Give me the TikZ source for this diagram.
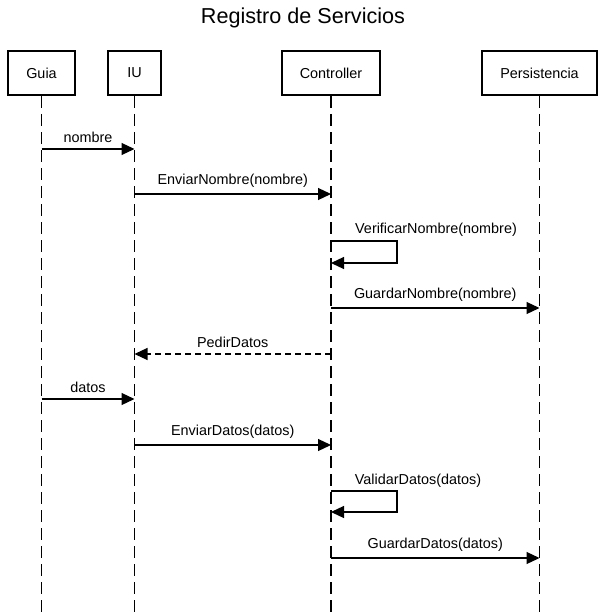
\documentclass[tikz,border=0pt]{standalone}
\usepackage{fontspec}
\setmainfont{Liberation Sans}
\usetikzlibrary{arrows.meta}
\begin{document}
\begin{tikzpicture}[x=1pt,y=-1pt,
  actor/.style={draw,line width=2pt,minimum height=44pt,inner sep=0pt,font=\fontsize{14.4}{16}\selectfont},
  life/.style={line width=1.2pt,dash pattern=on 12pt off 6pt},
  msg/.style={line width=1.2pt,-{Triangle[length=13pt,width=12pt]}},
  ret/.style={msg,dash pattern=on 6pt off 4pt},
  lbl/.style={font=\fontsize{14.4}{16}\selectfont,inner sep=0pt,anchor=base}]
\useasboundingbox (0,0) rectangle (606,615);
\node[font=\fontsize{21.6}{24}\selectfont] (title) at (303,18) {Registro de Servicios};
\node[actor,minimum width=67pt] (guia) at (41.5,73) {Guia};
\node[actor,minimum width=53pt] (iu) at (134.5,73) {IU};
\node[actor,minimum width=98pt] (ctrl) at (331,73) {Controller};
\node[actor,minimum width=115pt] (pers) at (539.5,73) {Persistencia};
\coordinate (gend) at (guia.south |- {0,615});
\coordinate (iend) at (iu.south |- {0,615});
\coordinate (cend) at (ctrl.south |- {0,615});
\coordinate (pend) at (pers.south |- {0,615});
\draw[life] (guia.south) -- (gend);
\draw[life] (iu.south) -- (iend);
\draw[life] (ctrl.south) -- (cend);
\draw[life] (pers.south) -- (pend);
% messages
\draw[msg] (guia.south |- {0,149}) -- node[lbl,above=6pt] (m1) {nombre} (iu.south |- {0,149});
\draw[msg] (iu.south |- {0,194}) -- node[lbl,above=6pt] (m2) {EnviarNombre(nombre)} (ctrl.south |- {0,194});
\coordinate (s1a) at (ctrl.south |- {0,241});
\coordinate (s1b) at (ctrl.south |- {0,263});
\draw[msg] (s1a) -- ++(66,0) |- (s1b);
\node[lbl] (m3) at (436,233) {VerificarNombre(nombre)};
\draw[msg] (ctrl.south |- {0,308}) -- node[lbl,above=6pt] (m4) {GuardarNombre(nombre)} (pers.south |- {0,308});
\draw[ret] (ctrl.south |- {0,354}) -- node[lbl,above=6pt] (m5) {PedirDatos} (iu.south |- {0,354});
\draw[msg] (guia.south |- {0,399}) -- node[lbl,above=6pt] (m6) {datos} (iu.south |- {0,399});
\draw[msg] (iu.south |- {0,445}) -- node[lbl,above=6pt] (m7) {EnviarDatos(datos)} (ctrl.south |- {0,445});
\coordinate (s2a) at (ctrl.south |- {0,491});
\coordinate (s2b) at (ctrl.south |- {0,512});
\draw[msg] (s2a) -- ++(66,0) |- (s2b);
\node[lbl] (m8) at (418,484) {ValidarDatos(datos)};
\draw[msg] (ctrl.south |- {0,558}) -- node[lbl,above=6pt] (m9) {GuardarDatos(datos)} (pers.south |- {0,558});
\end{tikzpicture}
\end{document}
